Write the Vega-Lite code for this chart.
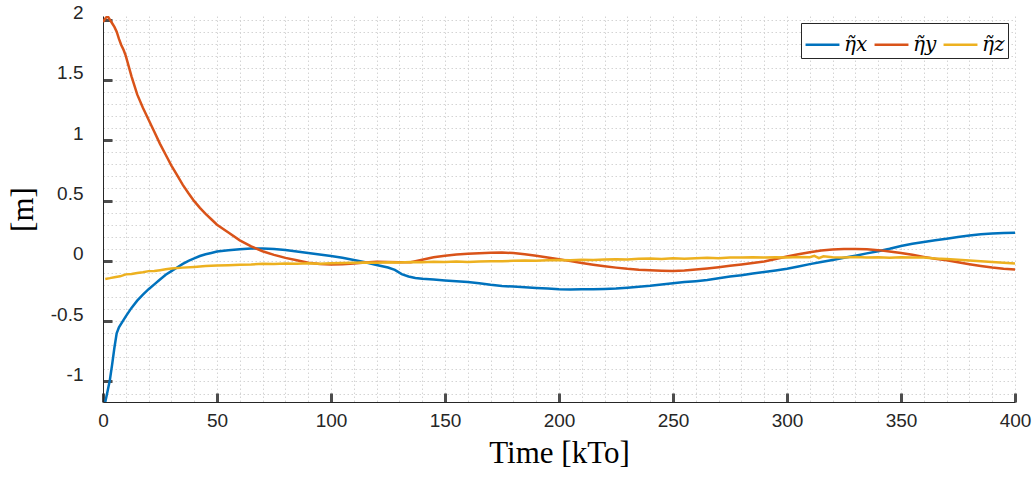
{
  "$schema": "https://vega.github.io/schema/vega-lite/v6.json",
  "autosize": {"type": "none"},
  "width": 912,
  "height": 386,
  "padding": {"left": 103, "top": 16, "right": 17, "bottom": 75},
  "background": "white",
  "datasets": {
    "series": [
      {"t":1,"v":-1.17,"s":"η̃x"},{"t":2,"v":-1.08,"s":"η̃x"},{"t":3,"v":-0.99,"s":"η̃x"},{"t":4,"v":-0.86,"s":"η̃x"},{"t":5,"v":-0.72,"s":"η̃x"},{"t":6,"v":-0.6,"s":"η̃x"},{"t":7,"v":-0.55,"s":"η̃x"},{"t":8,"v":-0.52,"s":"η̃x"},{"t":10,"v":-0.46,"s":"η̃x"},{"t":12.5,"v":-0.39,"s":"η̃x"},{"t":15,"v":-0.33,"s":"η̃x"},{"t":17.5,"v":-0.28,"s":"η̃x"},{"t":20,"v":-0.235,"s":"η̃x"},{"t":22.5,"v":-0.195,"s":"η̃x"},{"t":25,"v":-0.155,"s":"η̃x"},{"t":27.5,"v":-0.115,"s":"η̃x"},{"t":30,"v":-0.085,"s":"η̃x"},{"t":32.5,"v":-0.055,"s":"η̃x"},{"t":35,"v":-0.025,"s":"η̃x"},{"t":37.5,"v":0.0,"s":"η̃x"},{"t":40,"v":0.02,"s":"η̃x"},{"t":42.5,"v":0.04,"s":"η̃x"},{"t":45,"v":0.055,"s":"η̃x"},{"t":47.5,"v":0.066,"s":"η̃x"},{"t":50,"v":0.077,"s":"η̃x"},{"t":55,"v":0.088,"s":"η̃x"},{"t":60,"v":0.097,"s":"η̃x"},{"t":65,"v":0.103,"s":"η̃x"},{"t":70,"v":0.102,"s":"η̃x"},{"t":75,"v":0.098,"s":"η̃x"},{"t":80,"v":0.09,"s":"η̃x"},{"t":85,"v":0.078,"s":"η̃x"},{"t":90,"v":0.066,"s":"η̃x"},{"t":95,"v":0.053,"s":"η̃x"},{"t":100,"v":0.04,"s":"η̃x"},{"t":105,"v":0.025,"s":"η̃x"},{"t":110,"v":0.008,"s":"η̃x"},{"t":115,"v":-0.012,"s":"η̃x"},{"t":120,"v":-0.035,"s":"η̃x"},{"t":125,"v":-0.055,"s":"η̃x"},{"t":128,"v":-0.075,"s":"η̃x"},{"t":131,"v":-0.11,"s":"η̃x"},{"t":134,"v":-0.13,"s":"η̃x"},{"t":137,"v":-0.142,"s":"η̃x"},{"t":140,"v":-0.148,"s":"η̃x"},{"t":145,"v":-0.155,"s":"η̃x"},{"t":150,"v":-0.162,"s":"η̃x"},{"t":155,"v":-0.168,"s":"η̃x"},{"t":160,"v":-0.175,"s":"η̃x"},{"t":165,"v":-0.185,"s":"η̃x"},{"t":170,"v":-0.198,"s":"η̃x"},{"t":175,"v":-0.208,"s":"η̃x"},{"t":180,"v":-0.213,"s":"η̃x"},{"t":185,"v":-0.218,"s":"η̃x"},{"t":190,"v":-0.225,"s":"η̃x"},{"t":195,"v":-0.23,"s":"η̃x"},{"t":200,"v":-0.235,"s":"η̃x"},{"t":205,"v":-0.237,"s":"η̃x"},{"t":210,"v":-0.236,"s":"η̃x"},{"t":215,"v":-0.235,"s":"η̃x"},{"t":220,"v":-0.233,"s":"η̃x"},{"t":225,"v":-0.23,"s":"η̃x"},{"t":230,"v":-0.222,"s":"η̃x"},{"t":235,"v":-0.215,"s":"η̃x"},{"t":240,"v":-0.207,"s":"η̃x"},{"t":245,"v":-0.196,"s":"η̃x"},{"t":250,"v":-0.185,"s":"η̃x"},{"t":255,"v":-0.176,"s":"η̃x"},{"t":260,"v":-0.168,"s":"η̃x"},{"t":265,"v":-0.158,"s":"η̃x"},{"t":270,"v":-0.145,"s":"η̃x"},{"t":275,"v":-0.13,"s":"η̃x"},{"t":280,"v":-0.12,"s":"η̃x"},{"t":285,"v":-0.105,"s":"η̃x"},{"t":290,"v":-0.093,"s":"η̃x"},{"t":295,"v":-0.08,"s":"η̃x"},{"t":300,"v":-0.066,"s":"η̃x"},{"t":305,"v":-0.047,"s":"η̃x"},{"t":310,"v":-0.027,"s":"η̃x"},{"t":315,"v":-0.01,"s":"η̃x"},{"t":320,"v":0.008,"s":"η̃x"},{"t":325,"v":0.026,"s":"η̃x"},{"t":330,"v":0.043,"s":"η̃x"},{"t":335,"v":0.062,"s":"η̃x"},{"t":340,"v":0.08,"s":"η̃x"},{"t":345,"v":0.1,"s":"η̃x"},{"t":350,"v":0.123,"s":"η̃x"},{"t":355,"v":0.142,"s":"η̃x"},{"t":360,"v":0.157,"s":"η̃x"},{"t":365,"v":0.171,"s":"η̃x"},{"t":370,"v":0.184,"s":"η̃x"},{"t":375,"v":0.197,"s":"η̃x"},{"t":380,"v":0.21,"s":"η̃x"},{"t":385,"v":0.22,"s":"η̃x"},{"t":390,"v":0.227,"s":"η̃x"},{"t":395,"v":0.232,"s":"η̃x"},{"t":400,"v":0.234,"s":"η̃x"},

      {"t":0,"v":1.98,"s":"η̃y"},{"t":1,"v":2.01,"s":"η̃y"},{"t":2,"v":2.03,"s":"η̃y"},{"t":3,"v":2.0,"s":"η̃y"},{"t":4,"v":1.97,"s":"η̃y"},{"t":5,"v":1.94,"s":"η̃y"},{"t":6,"v":1.9,"s":"η̃y"},{"t":7,"v":1.84,"s":"η̃y"},{"t":8,"v":1.79,"s":"η̃y"},{"t":9,"v":1.75,"s":"η̃y"},{"t":10,"v":1.7,"s":"η̃y"},{"t":12.5,"v":1.53,"s":"η̃y"},{"t":15,"v":1.38,"s":"η̃y"},{"t":17.5,"v":1.27,"s":"η̃y"},{"t":20,"v":1.17,"s":"η̃y"},{"t":22.5,"v":1.07,"s":"η̃y"},{"t":25,"v":0.97,"s":"η̃y"},{"t":27.5,"v":0.88,"s":"η̃y"},{"t":30,"v":0.79,"s":"η̃y"},{"t":32.5,"v":0.71,"s":"η̃y"},{"t":35,"v":0.63,"s":"η̃y"},{"t":37.5,"v":0.56,"s":"η̃y"},{"t":40,"v":0.495,"s":"η̃y"},{"t":42.5,"v":0.44,"s":"η̃y"},{"t":45,"v":0.39,"s":"η̃y"},{"t":47.5,"v":0.345,"s":"η̃y"},{"t":50,"v":0.3,"s":"η̃y"},{"t":55,"v":0.235,"s":"η̃y"},{"t":60,"v":0.17,"s":"η̃y"},{"t":65,"v":0.12,"s":"η̃y"},{"t":70,"v":0.08,"s":"η̃y"},{"t":75,"v":0.05,"s":"η̃y"},{"t":80,"v":0.025,"s":"η̃y"},{"t":85,"v":0.005,"s":"η̃y"},{"t":90,"v":-0.015,"s":"η̃y"},{"t":95,"v":-0.025,"s":"η̃y"},{"t":100,"v":-0.03,"s":"η̃y"},{"t":105,"v":-0.028,"s":"η̃y"},{"t":110,"v":-0.022,"s":"η̃y"},{"t":115,"v":-0.013,"s":"η̃y"},{"t":120,"v":-0.008,"s":"η̃y"},{"t":125,"v":-0.009,"s":"η̃y"},{"t":130,"v":-0.012,"s":"η̃y"},{"t":135,"v":-0.012,"s":"η̃y"},{"t":140,"v":0.01,"s":"η̃y"},{"t":145,"v":0.03,"s":"η̃y"},{"t":150,"v":0.043,"s":"η̃y"},{"t":155,"v":0.052,"s":"η̃y"},{"t":160,"v":0.058,"s":"η̃y"},{"t":165,"v":0.063,"s":"η̃y"},{"t":170,"v":0.068,"s":"η̃y"},{"t":175,"v":0.069,"s":"η̃y"},{"t":180,"v":0.065,"s":"η̃y"},{"t":185,"v":0.055,"s":"η̃y"},{"t":190,"v":0.042,"s":"η̃y"},{"t":195,"v":0.028,"s":"η̃y"},{"t":200,"v":0.014,"s":"η̃y"},{"t":205,"v":-0.002,"s":"η̃y"},{"t":210,"v":-0.018,"s":"η̃y"},{"t":215,"v":-0.032,"s":"η̃y"},{"t":220,"v":-0.045,"s":"η̃y"},{"t":225,"v":-0.056,"s":"η̃y"},{"t":230,"v":-0.066,"s":"η̃y"},{"t":235,"v":-0.073,"s":"η̃y"},{"t":240,"v":-0.077,"s":"η̃y"},{"t":245,"v":-0.081,"s":"η̃y"},{"t":250,"v":-0.083,"s":"η̃y"},{"t":255,"v":-0.079,"s":"η̃y"},{"t":260,"v":-0.072,"s":"η̃y"},{"t":265,"v":-0.063,"s":"η̃y"},{"t":270,"v":-0.053,"s":"η̃y"},{"t":275,"v":-0.041,"s":"η̃y"},{"t":280,"v":-0.03,"s":"η̃y"},{"t":285,"v":-0.017,"s":"η̃y"},{"t":290,"v":-0.005,"s":"η̃y"},{"t":295,"v":0.015,"s":"η̃y"},{"t":300,"v":0.036,"s":"η̃y"},{"t":305,"v":0.055,"s":"η̃y"},{"t":310,"v":0.072,"s":"η̃y"},{"t":315,"v":0.085,"s":"η̃y"},{"t":320,"v":0.094,"s":"η̃y"},{"t":325,"v":0.098,"s":"η̃y"},{"t":330,"v":0.099,"s":"η̃y"},{"t":335,"v":0.096,"s":"η̃y"},{"t":340,"v":0.089,"s":"η̃y"},{"t":345,"v":0.078,"s":"η̃y"},{"t":350,"v":0.066,"s":"η̃y"},{"t":355,"v":0.05,"s":"η̃y"},{"t":360,"v":0.033,"s":"η̃y"},{"t":365,"v":0.018,"s":"η̃y"},{"t":370,"v":0.005,"s":"η̃y"},{"t":375,"v":-0.012,"s":"η̃y"},{"t":380,"v":-0.028,"s":"η̃y"},{"t":385,"v":-0.042,"s":"η̃y"},{"t":390,"v":-0.055,"s":"η̃y"},{"t":395,"v":-0.065,"s":"η̃y"},{"t":400,"v":-0.072,"s":"η̃y"},

      {"t":1,"v":-0.15,"s":"η̃z"},{"t":3,"v":-0.143,"s":"η̃z"},{"t":5,"v":-0.135,"s":"η̃z"},{"t":7.5,"v":-0.128,"s":"η̃z"},{"t":10,"v":-0.112,"s":"η̃z"},{"t":12.5,"v":-0.108,"s":"η̃z"},{"t":15,"v":-0.1,"s":"η̃z"},{"t":17.5,"v":-0.094,"s":"η̃z"},{"t":20,"v":-0.085,"s":"η̃z"},{"t":22.5,"v":-0.083,"s":"η̃z"},{"t":25,"v":-0.077,"s":"η̃z"},{"t":27.5,"v":-0.07,"s":"η̃z"},{"t":30,"v":-0.063,"s":"η̃z"},{"t":35,"v":-0.056,"s":"η̃z"},{"t":40,"v":-0.05,"s":"η̃z"},{"t":45,"v":-0.043,"s":"η̃z"},{"t":50,"v":-0.039,"s":"η̃z"},{"t":55,"v":-0.037,"s":"η̃z"},{"t":60,"v":-0.033,"s":"η̃z"},{"t":65,"v":-0.03,"s":"η̃z"},{"t":70,"v":-0.024,"s":"η̃z"},{"t":75,"v":-0.026,"s":"η̃z"},{"t":80,"v":-0.022,"s":"η̃z"},{"t":85,"v":-0.024,"s":"η̃z"},{"t":90,"v":-0.02,"s":"η̃z"},{"t":95,"v":-0.023,"s":"η̃z"},{"t":100,"v":-0.02,"s":"η̃z"},{"t":105,"v":-0.018,"s":"η̃z"},{"t":110,"v":-0.016,"s":"η̃z"},{"t":115,"v":-0.013,"s":"η̃z"},{"t":120,"v":-0.015,"s":"η̃z"},{"t":125,"v":-0.012,"s":"η̃z"},{"t":130,"v":-0.014,"s":"η̃z"},{"t":135,"v":-0.01,"s":"η̃z"},{"t":140,"v":-0.012,"s":"η̃z"},{"t":145,"v":-0.008,"s":"η̃z"},{"t":150,"v":-0.01,"s":"η̃z"},{"t":155,"v":-0.006,"s":"η̃z"},{"t":160,"v":-0.009,"s":"η̃z"},{"t":165,"v":-0.005,"s":"η̃z"},{"t":170,"v":-0.003,"s":"η̃z"},{"t":175,"v":-0.004,"s":"η̃z"},{"t":180,"v":0.001,"s":"η̃z"},{"t":185,"v":0.003,"s":"η̃z"},{"t":190,"v":0.0,"s":"η̃z"},{"t":195,"v":0.006,"s":"η̃z"},{"t":200,"v":0.008,"s":"η̃z"},{"t":205,"v":0.005,"s":"η̃z"},{"t":210,"v":0.009,"s":"η̃z"},{"t":215,"v":0.007,"s":"η̃z"},{"t":220,"v":0.012,"s":"η̃z"},{"t":225,"v":0.014,"s":"η̃z"},{"t":230,"v":0.011,"s":"η̃z"},{"t":235,"v":0.017,"s":"η̃z"},{"t":240,"v":0.019,"s":"η̃z"},{"t":245,"v":0.016,"s":"η̃z"},{"t":250,"v":0.021,"s":"η̃z"},{"t":255,"v":0.018,"s":"η̃z"},{"t":260,"v":0.022,"s":"η̃z"},{"t":265,"v":0.025,"s":"η̃z"},{"t":270,"v":0.021,"s":"η̃z"},{"t":275,"v":0.027,"s":"η̃z"},{"t":280,"v":0.028,"s":"η̃z"},{"t":285,"v":0.031,"s":"η̃z"},{"t":290,"v":0.027,"s":"η̃z"},{"t":295,"v":0.03,"s":"η̃z"},{"t":300,"v":0.027,"s":"η̃z"},{"t":305,"v":0.033,"s":"η̃z"},{"t":310,"v":0.03,"s":"η̃z"},{"t":312,"v":0.042,"s":"η̃z"},{"t":314,"v":0.022,"s":"η̃z"},{"t":316,"v":0.038,"s":"η̃z"},{"t":320,"v":0.031,"s":"η̃z"},{"t":325,"v":0.027,"s":"η̃z"},{"t":330,"v":0.032,"s":"η̃z"},{"t":335,"v":0.028,"s":"η̃z"},{"t":340,"v":0.029,"s":"η̃z"},{"t":345,"v":0.026,"s":"η̃z"},{"t":350,"v":0.03,"s":"η̃z"},{"t":355,"v":0.027,"s":"η̃z"},{"t":360,"v":0.028,"s":"η̃z"},{"t":365,"v":0.02,"s":"η̃z"},{"t":370,"v":0.015,"s":"η̃z"},{"t":375,"v":0.009,"s":"η̃z"},{"t":380,"v":0.003,"s":"η̃z"},{"t":385,"v":-0.004,"s":"η̃z"},{"t":390,"v":-0.01,"s":"η̃z"},{"t":395,"v":-0.016,"s":"η̃z"},{"t":400,"v":-0.022,"s":"η̃z"}
    ]
  },
  "data": {"name": "series"},
  "layer": [
    {
      "mark": {"type": "line", "strokeWidth": 0, "opacity": 0},
      "encoding": {
        "x": {
          "field": "t", "type": "quantitative",
          "scale": {"domain": [0, 400], "nice": false, "zero": false},
          "axis": {
            "orient": "bottom", "title": null, "labels": false, "ticks": false, "domain": false,
            "grid": true,
            "values": [0,10,20,30,40,50,60,70,80,90,100,110,120,130,140,150,160,170,180,190,200,210,220,230,240,250,260,270,280,290,300,310,320,330,340,350,360,370,380,390,400]
          }
        },
        "y": {
          "field": "v", "type": "quantitative",
          "scale": {"domain": [-1.17, 2.03], "nice": false, "zero": false},
          "axis": {
            "orient": "left", "title": null, "labels": false, "ticks": false, "domain": false,
            "grid": true,
            "values": [-1.1,-1,-0.9,-0.8,-0.7,-0.6,-0.5,-0.4,-0.3,-0.2,-0.1,0,0.1,0.2,0.3,0.4,0.5,0.6,0.7,0.8,0.9,1,1.1,1.2,1.3,1.4,1.5,1.6,1.7,1.8,1.9,2]
          }
        },
        "detail": {"field": "s", "type": "nominal"}
      }
    },
    {
      "mark": {"type": "line", "strokeWidth": 2.5, "clip": true, "interpolate": "linear"},
      "encoding": {
        "x": {
          "field": "t", "type": "quantitative",
          "axis": {
            "orient": "bottom",
            "grid": false,
            "title": "Time [kTo]",
            "values": [0, 50, 100, 150, 200, 250, 300, 350, 400],
            "format": "d",
            "ticks": true,
            "tickSize": -9,
            "tickColor": "#4d4d4d",
            "tickWidth": 3,
            "tickOpacity": 1,
            "labelPadding": 18,
            "labelFlush": false,
            "titlePadding": 8
          }
        },
        "y": {
          "field": "v", "type": "quantitative",
          "axis": {
            "orient": "left",
            "grid": false,
            "title": "[m]",
            "values": [-1, -0.5, 0, 0.5, 1, 1.5, 2],
            "labelExpr": "'' + datum.value",
            "ticks": true,
            "tickSize": -9,
            "tickColor": "#4d4d4d",
            "tickWidth": 3,
            "tickOpacity": 1,
            "labelPadding": 29,
            "labelBaseline": "alphabetic",
            "labelFlush": false,
            "labelOffset": -1,
            "titlePadding": 11
          }
        },
        "color": {
          "field": "s", "type": "nominal",
          "scale": {"domain": ["η̃x", "η̃y", "η̃z"], "range": ["#0072BD", "#D95319", "#EDB120"]},
          "legend": {
            "title": null,
            "orient": "top-right",
            "offset": 7,
            "direction": "horizontal",
            "symbolType": "stroke",
            "symbolSize": 1150,
            "symbolStrokeWidth": 2.5,
            "labelFont": "DejaVu Serif",
            "labelFontStyle": "italic",
            "labelFontSize": 20,
            "labelColor": "#000000",
            "labelOffset": 3,
            "columnPadding": 1,
            "strokeColor": "#262626",
            "fillColor": "white",
            "padding": 3
          }
        }
      }
    }
  ],
  "resolve": {"axis": {"x": "independent", "y": "independent"}},
  "config": {
    "view": {"stroke": null},
    "axis": {
      "domainColor": "#262626",
      "domainWidth": 1,
      "labelFont": "Liberation Sans",
      "labelFontSize": 19,
      "labelColor": "#262626",
      "titleFont": "Liberation Serif",
      "titleFontSize": 31,
      "titleFontWeight": "normal",
      "titleColor": "#000000",
      "gridColor": "#d4d4d4",
      "gridDash": [1.5, 2.5],
      "gridWidth": 1
    }
  }
}
